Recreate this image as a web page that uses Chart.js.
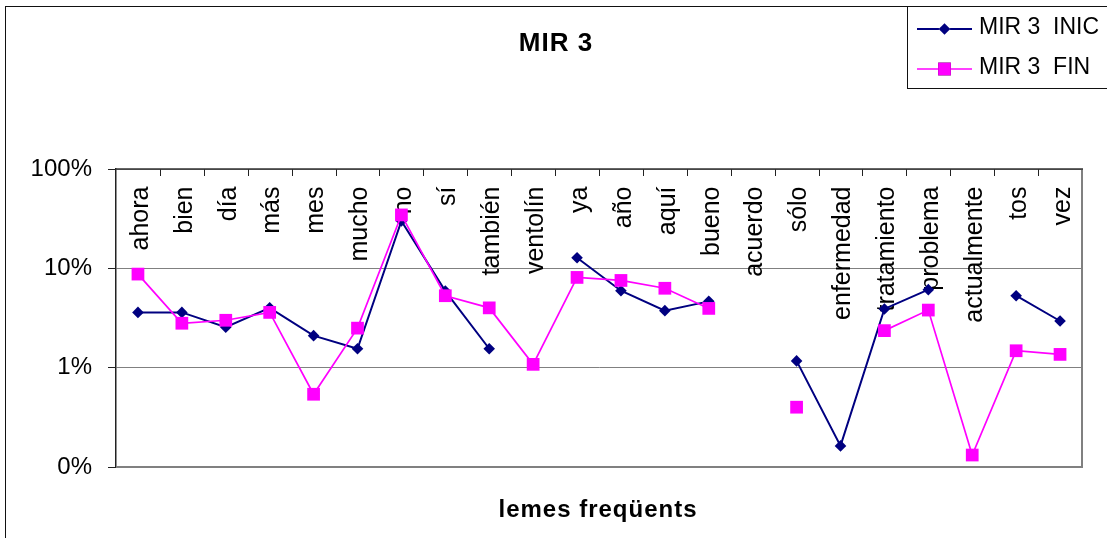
<!DOCTYPE html>
<html>
<head>
<meta charset="utf-8">
<title>MIR 3</title>
<script src="https://cdn.jsdelivr.net/npm/chart.js@4/dist/chart.umd.min.js"></script>
<style>
  html, body { margin: 0; padding: 0; background: #fff; }
  canvas { display: block; }
</style>
</head>
<body>
<canvas id="c" width="1107" height="538"></canvas>
<script>
// Frequent lemmas (categories)
const categories = ['ahora', 'bien', 'día', 'más', 'mes', 'mucho', 'no', 'sí', 'también', 'ventolín',
  'ya', 'año', 'aquí', 'bueno', 'acuerdo', 'sólo', 'enfermedad', 'tratamiento', 'problema',
  'actualmente', 'tos', 'vez'];

// Relative frequency (%) at start and end of treatment
const mir3Inic = [3.6, 3.6, 2.55, 4.0, 2.1, 1.55, 30, 5.9, 1.55, null,
  12.8, 5.95, 3.75, 4.65, null, 1.17, 0.163, 3.9, 6.1, null, 5.3, 2.95];
const mir3Fin = [8.75, 2.8, 3.0, 3.6, 0.54, 2.5, 34.5, 5.3, 4.0, 1.08,
  8.1, 7.55, 6.3, 3.95, null, 0.40, null, 2.36, 3.8, 0.132, 1.48, 1.36];

// Log axis ticks and their labels
const tickValues = [0.1, 1, 10, 100];
const tickLabels = ['0%', '1%', '10%', '100%'];

const titleText = 'MIR 3';
const axisTitleText = 'lemes freqüents';
const seriesNames = ['MIR 3  INIC', 'MIR 3  FIN'];

const FONT = "'Liberation Sans', Arial, sans-serif";
Chart.defaults.font.family = FONT;
Chart.defaults.color = '#000';

const decorations = {
  id: 'decorations',
  beforeDraw(chart) {
    const ctx = chart.ctx;
    ctx.save();
    ctx.fillStyle = '#fff';
    ctx.fillRect(0, 0, chart.width, chart.height);
    // outer frame
    ctx.strokeStyle = '#111';
    ctx.lineWidth = 1;
    ctx.strokeRect(5.5, 6.5, 1200, 600);
    // title
    ctx.fillStyle = '#000';
    ctx.font = 'bold 26px ' + FONT;
    ctx.textAlign = 'center';
    ctx.textBaseline = 'alphabetic';
    ctx.letterSpacing = '1px';
    ctx.fillText(titleText, 556, 51);
    // axis title
    ctx.font = 'bold 24px ' + FONT;
    ctx.fillText(axisTitleText, 598, 517);
    ctx.letterSpacing = '0px';
    ctx.restore();
  },
  beforeDatasetsDraw(chart) {
    const ctx = chart.ctx;
    const area = chart.chartArea;
    const x = chart.scales.x;
    ctx.save();
    // category labels, rotated, hanging from the top edge
    ctx.fillStyle = '#000';
    ctx.font = '25px ' + FONT;
    ctx.textAlign = 'right';
    ctx.textBaseline = 'alphabetic';
    categories.forEach((c, i) => {
      const cx = x.getPixelForValue(i);
      ctx.save();
      ctx.translate(cx + 9.8, area.top + 17.5);
      ctx.rotate(-Math.PI / 2);
      ctx.fillText(c, 0, 0);
      ctx.restore();
    });
    // category axis along the top with tick marks pointing down
    const step = (area.right - area.left) / categories.length;
    ctx.strokeStyle = '#222';
    ctx.lineWidth = 1;
    ctx.beginPath();
    for (let i = 1; i < categories.length; i++) {
      const tx = Math.round(area.left + step * i) + 0.5;
      ctx.moveTo(tx, area.top);
      ctx.lineTo(tx, area.top + 7);
    }
    ctx.stroke();
    ctx.restore();
  },
  afterDatasetsDraw(chart) {
    const ctx = chart.ctx;
    const area = chart.chartArea;
    ctx.save();
    // plot frame: dark top, grey right/bottom
    ctx.strokeStyle = '#808080';
    ctx.lineWidth = 2;
    ctx.beginPath();
    ctx.moveTo(area.right, area.top);
    ctx.lineTo(area.right, area.bottom);
    ctx.lineTo(area.left, area.bottom);
    ctx.stroke();
    ctx.strokeStyle = '#333';
    ctx.lineWidth = 1.5;
    ctx.beginPath();
    ctx.moveTo(area.left, area.top);
    ctx.lineTo(area.right + 1, area.top);
    ctx.stroke();
    ctx.restore();
  },
  afterDraw(chart) {
    const ctx = chart.ctx;
    ctx.save();
    // legend box
    ctx.fillStyle = '#fff';
    ctx.fillRect(907.5, 6.5, 300, 82);
    ctx.strokeStyle = '#111';
    ctx.lineWidth = 1;
    ctx.strokeRect(907.5, 6.5, 300, 82);
    const rows = [29, 69];
    chart.data.datasets.forEach((ds, i) => {
      const y = rows[i];
      ctx.strokeStyle = ds.borderColor;
      ctx.lineWidth = ds.borderWidth;
      ctx.beginPath();
      ctx.moveTo(917, y);
      ctx.lineTo(972, y);
      ctx.stroke();
      Chart.helpers.drawPoint(ctx, {
        pointStyle: ds.pointStyle,
        radius: ds.pointRadius,
        borderWidth: 0
      }, 944.5, y);
      ctx.fillStyle = ds.pointBackgroundColor;
      ctx.fill();
      ctx.fillStyle = '#000';
      ctx.font = '23px ' + FONT;
      ctx.textAlign = 'left';
      ctx.textBaseline = 'alphabetic';
      ctx.fillText(ds.label, 979, y + 5 + (i === 0 ? 0 : 0));
    });
    ctx.restore();
  }
};

new Chart(document.getElementById('c'), {
  type: 'line',
  data: {
    labels: categories,
    datasets: [
      {
        label: seriesNames[0],
        data: mir3Inic,
        borderColor: '#000080',
        backgroundColor: '#000080',
        pointBackgroundColor: '#000080',
        pointBorderColor: '#000080',
        borderWidth: 2,
        pointStyle: 'rectRot',
        pointRadius: 5.8,
        pointBorderWidth: 0,
        order: 1,
        spanGaps: false
      },
      {
        label: seriesNames[1],
        data: mir3Fin,
        borderColor: '#FF00FF',
        backgroundColor: '#FF00FF',
        pointBackgroundColor: '#FF00FF',
        pointBorderColor: '#FF00FF',
        borderWidth: 1.7,
        pointStyle: 'rect',
        pointRadius: 9,
        pointBorderWidth: 0,
        order: 0,
        spanGaps: false
      }
    ]
  },
  options: {
    responsive: false,
    devicePixelRatio: 1,
    animation: false,
    events: [],
    layout: { padding: { top: 169, bottom: 71, left: 0, right: 25 } },
    plugins: {
      legend: { display: false },
      title: { display: false },
      tooltip: { enabled: false }
    },
    elements: { line: { tension: 0 } },
    scales: {
      x: {
        type: 'category',
        display: false,
        offset: true
      },
      y: {
        type: 'logarithmic',
        min: 0.1,
        max: 100,
        afterBuildTicks(scale) {
          scale.ticks = tickValues.map(v => ({ value: v }));
        },
        afterFit(scale) {
          scale.width = 116;
        },
        ticks: {
          font: { size: 24 },
          color: '#000',
          padding: 16,
          callback(value) {
            const i = tickValues.indexOf(value);
            return i >= 0 ? tickLabels[i] : '';
          }
        },
        grid: {
          color: '#808080',
          lineWidth: 1,
          tickColor: '#222',
          tickLength: 8
        },
        border: { color: '#222', width: 1.5 }
      }
    }
  },
  plugins: [decorations]
});
</script>
</body>
</html>
